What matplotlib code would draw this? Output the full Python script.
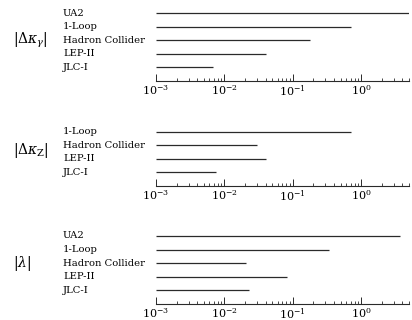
import matplotlib
matplotlib.use("Agg")
import matplotlib.pyplot as plt
from matplotlib.transforms import blended_transform_factory
from matplotlib.ticker import LogLocator, LogFormatterMathtext, NullFormatter

plt.rcParams['font.family'] = ['DejaVu Serif']
plt.rcParams['mathtext.fontset'] = 'dejavuserif'

# Upper limits on anomalous couplings, one panel per coupling
kg_labels = ["UA2", "1-Loop", "Hadron Collider", "LEP-II", "JLC-I"]
kg_values = [5.0, 0.72, 0.18, 0.041, 0.0067]

kz_labels = ["1-Loop", "Hadron Collider", "LEP-II", "JLC-I"]
kz_values = [0.72, 0.0295, 0.041, 0.0075]

lam_labels = ["UA2", "1-Loop", "Hadron Collider", "LEP-II", "JLC-I"]
lam_values = [3.7, 0.34, 0.021, 0.081, 0.023]

panel_titles = [r"$|\Delta\kappa_\gamma|$", r"$|\Delta\kappa_\mathrm{Z}|$", r"$|\lambda|$"]

x_min, x_max = 1e-3, 5.0

W, H = 412, 320
fig = plt.figure(figsize=(W / 100, H / 100), dpi=100)

unit = 13.6          # pixels per row
left_px, right_px = 156, 409
bottoms_px = [81, 186, 304]
panels = [(kg_labels, kg_values), (kz_labels, kz_values), (lam_labels, lam_values)]
title_y = [3, 2.6, 3]

ink = "#2a2a2a"

for (labels, values), bpx, title, ty in zip(panels, bottoms_px, panel_titles, title_y):
    n = len(labels)
    top = n + 0.5
    ax = fig.add_axes([left_px / W, (H - bpx) / H, (right_px - left_px) / W, top * unit / H])
    ax.set_xscale("log")
    ax.set_xlim(x_min, x_max)
    ax.set_ylim(0, top)
    rows = list(range(n, 0, -1))
    ax.hlines(rows, x_min, values, color=ink, lw=0.9)
    for s in ("top", "right", "left"):
        ax.spines[s].set_visible(False)
    ax.spines["bottom"].set_color(ink)
    ax.spines["bottom"].set_linewidth(0.8)
    ax.set_yticks([])
    ax.xaxis.set_major_locator(LogLocator(base=10, numticks=10))
    ax.xaxis.set_minor_locator(LogLocator(base=10, subs=range(2, 10), numticks=20))
    ax.xaxis.set_major_formatter(LogFormatterMathtext())
    ax.xaxis.set_minor_formatter(NullFormatter())
    ax.tick_params(axis="x", which="major", direction="in", length=5, width=0.7,
                   color=ink, labelsize=8, pad=1.5, labelcolor="black")
    ax.tick_params(axis="x", which="minor", direction="in", length=2, width=0.6, color=ink)
    trans = blended_transform_factory(fig.transFigure, ax.transData)
    for r, lab in zip(rows, labels):
        ax.text(63 / W, r, lab, transform=trans, ha="left", va="center",
                fontsize=7.2, color="black")
    ax.text(13 / W, ty, title, transform=trans, ha="left", va="center",
            fontsize=10, color="black")

fig.savefig("out.png", dpi=100)
